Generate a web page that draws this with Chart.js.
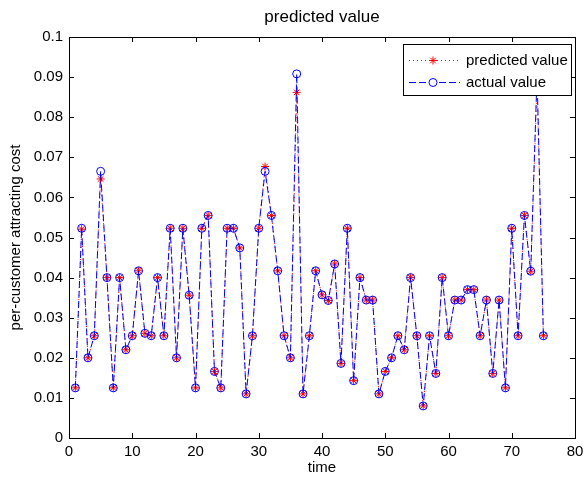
<!DOCTYPE html>
<html>
<head>
<meta charset="utf-8">
<style>
    body { margin: 0; background: #fff; }
    canvas { display: block; }
</style>
</head>
<body>
    <canvas id="myChartPV" width="584" height="479"></canvas>

    <script src="https://cdn.jsdelivr.net/npm/chart.js"></script>

    <script>
        // time steps
        const tiempo = [1,2,3,4,5,6,7,8,9,10,11,12,13,14,15,16,17,18,19,20,
                        21,22,23,24,25,26,27,28,29,30,31,32,33,34,35,36,37,38,39,40,
                        41,42,43,44,45,46,47,48,49,50,51,52,53,54,55,56,57,58,59,60,
                        61,62,63,64,65,66,67,68,69,70,71,72,73,74,75]

        const actualValue = [0.0125,0.0523,0.0200,0.0255,0.0665,0.0400,0.0125,0.0400,0.0220,0.0255,
                             0.0417,0.0261,0.0255,0.0400,0.0255,0.0523,0.0200,0.0523,0.0356,0.0125,
                             0.0523,0.0555,0.0166,0.0125,0.0523,0.0523,0.0474,0.0110,0.0255,0.0523,
                             0.0665,0.0555,0.0417,0.0255,0.0200,0.0908,0.0110,0.0255,0.0417,0.0357,
                             0.0343,0.0434,0.0186,0.0523,0.0143,0.0400,0.0344,0.0344,0.0110,0.0166,
                             0.0200,0.0255,0.0220,0.0400,0.0255,0.0080,0.0255,0.0161,0.0400,0.0255,
                             0.0344,0.0344,0.0370,0.0370,0.0255,0.0344,0.0161,0.0344,0.0125,0.0523,
                             0.0255,0.0555,0.0416,0.0905,0.0255]

        const predictedValue = [0.0125,0.0521,0.0200,0.0255,0.0646,0.0400,0.0125,0.0400,0.0220,0.0255,
                                0.0417,0.0261,0.0255,0.0400,0.0255,0.0523,0.0200,0.0523,0.0356,0.0125,
                                0.0523,0.0555,0.0166,0.0125,0.0523,0.0523,0.0474,0.0110,0.0255,0.0523,
                                0.0677,0.0555,0.0417,0.0255,0.0200,0.0862,0.0110,0.0255,0.0417,0.0357,
                                0.0343,0.0434,0.0186,0.0523,0.0143,0.0400,0.0344,0.0344,0.0110,0.0166,
                                0.0200,0.0255,0.0220,0.0400,0.0255,0.0080,0.0255,0.0161,0.0400,0.0255,
                                0.0344,0.0344,0.0370,0.0370,0.0255,0.0344,0.0161,0.0344,0.0125,0.0523,
                                0.0255,0.0555,0.0416,0.0880,0.0255]

        const xTicks = [0,10,20,30,40,50,60,70,80]
        const yTicks = [0,0.01,0.02,0.03,0.04,0.05,0.06,0.07,0.08,0.09,0.1]
        const yTickLabels = ['0','0.01','0.02','0.03','0.04','0.05','0.06','0.07','0.08','0.09','0.1']

        const fuente = '"Liberation Sans", Arial, sans-serif'

        // matlab style box with inward ticks
        const marco = {
            id: 'marco',
            afterDatasetsDraw(chart) {
                const {ctx, chartArea: a, scales} = chart
                ctx.save()
                ctx.strokeStyle = '#000'
                ctx.lineWidth = 1
                ctx.setLineDash([])
                ctx.strokeRect(a.left + 0.5, a.top + 0.5, a.right - a.left, a.bottom - a.top)
                ctx.beginPath()
                scales.x.ticks.forEach(t => {
                    const px = Math.round(scales.x.getPixelForValue(t.value)) + 0.5
                    ctx.moveTo(px, a.bottom); ctx.lineTo(px, a.bottom - 5)
                    ctx.moveTo(px, a.top); ctx.lineTo(px, a.top + 5)
                })
                scales.y.ticks.forEach(t => {
                    const py = Math.round(scales.y.getPixelForValue(t.value)) + 0.5
                    ctx.moveTo(a.left, py); ctx.lineTo(a.left + 5, py)
                    ctx.moveTo(a.right, py); ctx.lineTo(a.right - 5, py)
                })
                ctx.stroke()
                ctx.restore()
            }
        }

        // legend box in the upper right corner
        const leyenda = {
            id: 'leyenda',
            afterDatasetsDraw(chart) {
                const {ctx, chartArea: a} = chart
                const w = 168, h = 51
                const x0 = a.right - 4 - w, y0 = a.top + 7
                ctx.save()
                ctx.fillStyle = '#fff'
                ctx.fillRect(x0, y0, w, h)
                ctx.strokeStyle = '#000'
                ctx.lineWidth = 1
                ctx.strokeRect(x0 + 0.5, y0 + 0.5, w, h)
                chart.data.datasets.forEach((ds, i) => {
                    const yy = y0 + 16.5 + i * 22
                    const mx = x0 + 30
                    ctx.strokeStyle = ds.borderColor
                    ctx.setLineDash(ds.borderDash)
                    ctx.beginPath()
                    ctx.moveTo(x0 + 6, yy); ctx.lineTo(x0 + 57, yy)
                    ctx.stroke()
                    ctx.setLineDash([])
                    ctx.beginPath()
                    if (ds.pointStyle === 'circle') {
                        ctx.fillStyle = '#fff'
                        ctx.arc(mx, yy, 4, 0, Math.PI * 2)
                        ctx.fill()
                    } else {
                        ctx.moveTo(mx - 4, yy); ctx.lineTo(mx + 4, yy)
                        ctx.moveTo(mx, yy - 4); ctx.lineTo(mx, yy + 4)
                        ctx.moveTo(mx - 2.8, yy - 2.8); ctx.lineTo(mx + 2.8, yy + 2.8)
                        ctx.moveTo(mx - 2.8, yy + 2.8); ctx.lineTo(mx + 2.8, yy - 2.8)
                    }
                    ctx.stroke()
                    ctx.fillStyle = '#000'
                    ctx.font = '15px ' + fuente
                    ctx.textBaseline = 'middle'
                    ctx.fillText(ds.label, x0 + 63, yy)
                })
                ctx.restore()
            }
        }

        var ctxPV = document.getElementById('myChartPV')

        var myChartPV = new Chart(ctxPV, {
            type: 'scatter',
            data: {
                datasets: [{
                    label: 'predicted value',
                    data: tiempo.map((t, i) => ({x: t, y: predictedValue[i]})),
                    showLine: true,
                    borderColor: 'rgb(255, 0, 0)',
                    borderWidth: 1,
                    borderDash: [1, 3],
                    pointStyle: 'star',
                    pointRadius: 4,
                    pointBorderWidth: 1,
                    pointBorderColor: 'rgb(255, 0, 0)',
                    pointBackgroundColor: 'rgb(255, 0, 0)',
                    order: 2
                }, {
                    label: 'actual value',
                    data: tiempo.map((t, i) => ({x: t, y: actualValue[i]})),
                    showLine: true,
                    borderColor: 'rgb(0, 0, 255)',
                    borderWidth: 1,
                    borderDash: [7, 3],
                    pointStyle: 'circle',
                    pointRadius: 4,
                    pointBorderWidth: 1,
                    pointBorderColor: 'rgb(0, 0, 255)',
                    pointBackgroundColor: 'rgba(0, 0, 0, 0)',
                    order: 1
                }]
            },
            options: {
                responsive: false,
                animation: false,
                layout: { padding: { left: 0, right: 0, top: 0, bottom: 0 } },
                plugins: {
                    legend: { display: false },
                    tooltip: { enabled: false },
                    title: {
                        display: true,
                        text: 'predicted value',
                        fullSize: false,
                        color: '#000',
                        font: { family: fuente, size: 17, weight: 'normal' },
                        padding: { top: 7, bottom: 9.6 }
                    }
                },
                scales: {
                    x: {
                        type: 'linear',
                        min: 0,
                        max: 80,
                        afterBuildTicks: s => { s.ticks = xTicks.map(v => ({value: v})) },
                        afterFit: s => { s.height = 41; s.paddingLeft = 0; s.paddingRight = 9 },
                        grid: { display: false, drawTicks: false },
                        border: { display: false },
                        ticks: {
                            color: '#000',
                            padding: 5,
                            maxRotation: 0,
                            font: { family: fuente, size: 15 }
                        },
                        title: {
                            display: true,
                            text: 'time',
                            color: '#000',
                            font: { family: fuente, size: 15 },
                            padding: { top: 0, bottom: 2 }
                        }
                    },
                    y: {
                        min: 0,
                        max: 0.1,
                        afterBuildTicks: s => { s.ticks = yTicks.map(v => ({value: v})) },
                        afterFit: s => { s.width = 69 },
                        grid: { display: false, drawTicks: false },
                        border: { display: false },
                        ticks: {
                            color: '#000',
                            padding: 6,
                            font: { family: fuente, size: 15 },
                            callback: (v, i) => yTickLabels[i]
                        },
                        title: {
                            display: true,
                            text: 'per-customer attracting cost',
                            color: '#000',
                            font: { family: fuente, size: 15 },
                            padding: { top: 7, bottom: 0 }
                        }
                    }
                }
            },
            plugins: [marco, leyenda]
        })
    </script>
</body>
</html>
